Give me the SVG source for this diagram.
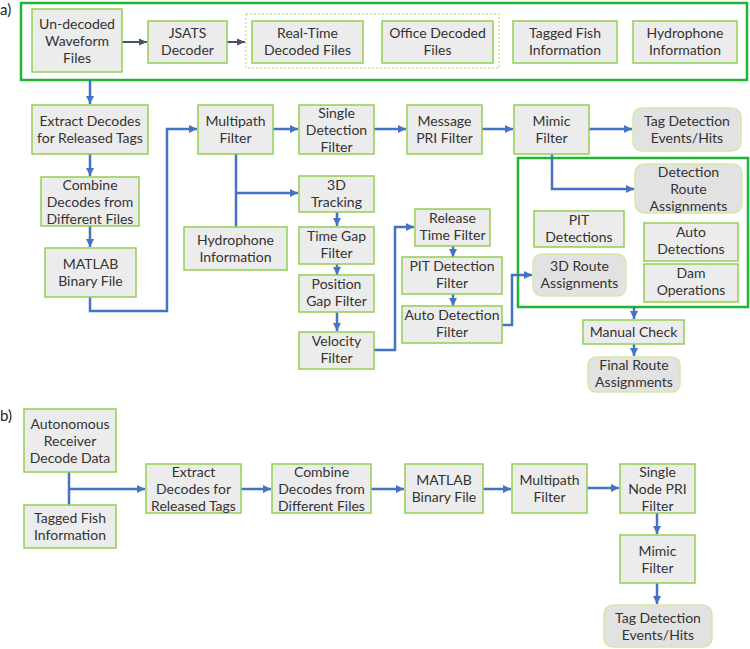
<svg xmlns="http://www.w3.org/2000/svg" width="750" height="649" viewBox="0 0 750 649">
<style>
.b{fill:#ececec;stroke:#92d050;stroke-width:1.5}
.r{fill:#e2e2e2;stroke:#d6e9a6;stroke-width:1.5}
.g{fill:none;stroke:#1db532;stroke-width:2.5}
.d{fill:none;stroke:#a9d46f;stroke-width:1;stroke-dasharray:2 2}
text{font-family:Lato,"Open Sans",sans-serif;font-size:14px;fill:#333;text-anchor:middle}
.lbl{text-anchor:start;font-size:15px;fill:#222}
.c{fill:none;stroke:#4472c4;stroke-width:2.5}
.k{fill:none;stroke:#44546a;stroke-width:2}
</style>
<defs>
<marker id="ah" markerUnits="userSpaceOnUse" markerWidth="10" markerHeight="10" refX="8" refY="4" orient="auto"><path d="M0,0 L8,4 L0,8 Z" fill="#4472c4"/></marker>
<marker id="ak" markerUnits="userSpaceOnUse" markerWidth="10" markerHeight="10" refX="8" refY="4" orient="auto"><path d="M0,0.5 L8,4 L0,7.5 Z" fill="#44546a"/></marker>
</defs>
<text class="lbl" x="0" y="15">a)</text>
<text class="lbl" x="0" y="421">b)</text>
<rect class="g" x="21" y="3" width="726" height="77"/>
<rect class="d" x="246" y="14" width="253" height="54"/>
<rect class="g" x="518" y="158" width="230" height="149"/>
<g id="connectors">
<path class="k" d="M122,42 H147" marker-end="url(#ak)"/>
<path class="k" d="M227,42 H245" marker-end="url(#ak)"/>
<path class="c" d="M90,80 V104" marker-end="url(#ah)"/>
<path class="c" d="M90,154 V176" marker-end="url(#ah)"/>
<path class="c" d="M90,226 V247" marker-end="url(#ah)"/>
<path class="c" d="M90,297 V311 H167 V129 H197" marker-end="url(#ah)"/>
<path class="c" d="M273,129 H298" marker-end="url(#ah)"/>
<path class="c" d="M236,227 V154"/>
<path class="c" d="M236,193 H298" marker-end="url(#ah)"/>
<path class="c" d="M337,212 V226" marker-end="url(#ah)"/>
<path class="c" d="M337,264 V275" marker-end="url(#ah)"/>
<path class="c" d="M337,312 V331" marker-end="url(#ah)"/>
<path class="c" d="M374,350 H395 V227 H414" marker-end="url(#ah)"/>
<path class="c" d="M453,246 V257" marker-end="url(#ah)"/>
<path class="c" d="M453,294 V306" marker-end="url(#ah)"/>
<path class="c" d="M502,325 H512 V275 H532" marker-end="url(#ah)"/>
<path class="c" d="M374,129 H406" marker-end="url(#ah)"/>
<path class="c" d="M482,129 H513" marker-end="url(#ah)"/>
<path class="c" d="M589,129 H632" marker-end="url(#ah)"/>
<path class="c" d="M552,154 V189 H634" marker-end="url(#ah)"/>
<path class="c" d="M634,307 V319" marker-end="url(#ah)"/>
<path class="c" d="M634,344 V356" marker-end="url(#ah)"/>
<path class="c" d="M69,472 V505"/>
<path class="c" d="M69,489 H145" marker-end="url(#ah)"/>
<path class="c" d="M241,489 H271" marker-end="url(#ah)"/>
<path class="c" d="M371,489 H404" marker-end="url(#ah)"/>
<path class="c" d="M483,489 H511" marker-end="url(#ah)"/>
<path class="c" d="M587,488 H619" marker-end="url(#ah)"/>
<path class="c" d="M657,513 V534" marker-end="url(#ah)"/>
<path class="c" d="M657,583 V604" marker-end="url(#ah)"/>
</g>
<g id="undecoded"><rect class="b" x="32" y="9" width="90" height="63"/><text x="77" y="29">Un-decoded</text><text x="77" y="46">Waveform</text><text x="77" y="63">Files</text></g>
<g id="jsats"><rect class="b" x="148" y="21" width="79" height="42"/><text x="187.5" y="38">JSATS</text><text x="187.5" y="55">Decoder</text></g>
<g id="realtime"><rect class="b" x="252" y="21" width="111" height="42"/><text x="307.5" y="38">Real-Time</text><text x="307.5" y="55">Decoded Files</text></g>
<g id="office"><rect class="b" x="382" y="21" width="111" height="42"/><text x="437.5" y="38">Office Decoded</text><text x="437.5" y="55">Files</text></g>
<g id="taggedfish"><rect class="b" x="513" y="21" width="104" height="42"/><text x="565" y="38">Tagged Fish</text><text x="565" y="55">Information</text></g>
<g id="hydrophone"><rect class="b" x="633" y="21" width="104" height="42"/><text x="685" y="38">Hydrophone</text><text x="685" y="55">Information</text></g>
<g id="extract"><rect class="b" x="32" y="105" width="116" height="49"/><text x="90" y="126">Extract Decodes</text><text x="90" y="143">for Released Tags</text></g>
<g id="combine"><rect class="b" x="41" y="177" width="98" height="49"/><text x="90" y="190">Combine</text><text x="90" y="207">Decodes from</text><text x="90" y="224">Different Files</text></g>
<g id="matlab"><rect class="b" x="45" y="248" width="91" height="49"/><text x="90.5" y="269">MATLAB</text><text x="90.5" y="286">Binary File</text></g>
<g id="multipath"><rect class="b" x="198" y="105" width="75" height="49"/><text x="235.5" y="126">Multipath</text><text x="235.5" y="143">Filter</text></g>
<g id="hydro2"><rect class="b" x="184" y="227" width="103" height="43"/><text x="235.5" y="245">Hydrophone</text><text x="235.5" y="262">Information</text></g>
<g id="single"><rect class="b" x="299" y="105" width="75" height="49"/><text x="336.5" y="118">Single</text><text x="336.5" y="135">Detection</text><text x="336.5" y="152">Filter</text></g>
<g id="tracking"><rect class="b" x="299" y="176" width="75" height="36"/><text x="336.5" y="190">3D</text><text x="336.5" y="207">Tracking</text></g>
<g id="timegap"><rect class="b" x="299" y="227" width="75" height="37"/><text x="336.5" y="241">Time Gap</text><text x="336.5" y="258">Filter</text></g>
<g id="posgap"><rect class="b" x="299" y="275" width="75" height="37"/><text x="336.5" y="289">Position</text><text x="336.5" y="306">Gap Filter</text></g>
<g id="velocity"><rect class="b" x="299" y="332" width="75" height="37"/><text x="336.5" y="346">Velocity</text><text x="336.5" y="363">Filter</text></g>
<g id="release"><rect class="b" x="415" y="209" width="75" height="37"/><text x="452.5" y="223">Release</text><text x="452.5" y="240">Time Filter</text></g>
<g id="pitfilter"><rect class="b" x="402" y="257" width="100" height="37"/><text x="452" y="271">PIT Detection</text><text x="452" y="288">Filter</text></g>
<g id="autofilter"><rect class="b" x="402" y="306" width="100" height="37"/><text x="452" y="320">Auto Detection</text><text x="452" y="337">Filter</text></g>
<g id="message"><rect class="b" x="407" y="105" width="75" height="49"/><text x="444.5" y="126">Message</text><text x="444.5" y="143">PRI Filter</text></g>
<g id="mimic"><rect class="b" x="514" y="105" width="75" height="49"/><text x="551.5" y="126">Mimic</text><text x="551.5" y="143">Filter</text></g>
<g id="tagdet"><rect class="r" x="633" y="108" width="108" height="43" rx="9"/><text x="687" y="126">Tag Detection</text><text x="687" y="143">Events/Hits</text></g>
<g id="detroute"><rect class="r" x="635" y="164" width="107" height="49" rx="9"/><text x="688.5" y="177">Detection</text><text x="688.5" y="194">Route</text><text x="688.5" y="211">Assignments</text></g>
<g id="pitdet"><rect class="b" x="534" y="211" width="90" height="36"/><text x="579" y="225">PIT</text><text x="579" y="242">Detections</text></g>
<g id="autodet"><rect class="b" x="644" y="223" width="94" height="38"/><text x="691" y="237">Auto</text><text x="691" y="254">Detections</text></g>
<g id="dam"><rect class="b" x="644" y="264" width="94" height="38"/><text x="691" y="278">Dam</text><text x="691" y="295">Operations</text></g>
<g id="route3d"><rect class="r" x="533" y="254" width="93" height="42" rx="9"/><text x="579.5" y="271">3D Route</text><text x="579.5" y="288">Assignments</text></g>
<g id="manual"><rect class="b" x="583" y="320" width="101" height="24"/><text x="633.5" y="337">Manual Check</text></g>
<g id="final"><rect class="r" x="588" y="357" width="92" height="35" rx="8"/><text x="634" y="370">Final Route</text><text x="634" y="387">Assignments</text></g>
<g id="b_auto"><rect class="b" x="24" y="409" width="92" height="63"/><text x="70" y="429">Autonomous</text><text x="70" y="446">Receiver</text><text x="70" y="463">Decode Data</text></g>
<g id="b_tagged"><rect class="b" x="24" y="505" width="92" height="43"/><text x="70" y="523">Tagged Fish</text><text x="70" y="540">Information</text></g>
<g id="b_extract"><rect class="b" x="146" y="464" width="95" height="49"/><text x="193.5" y="477">Extract</text><text x="193.5" y="494">Decodes for</text><text x="193.5" y="511">Released Tags</text></g>
<g id="b_combine"><rect class="b" x="272" y="464" width="99" height="49"/><text x="321.5" y="477">Combine</text><text x="321.5" y="494">Decodes from</text><text x="321.5" y="511">Different Files</text></g>
<g id="b_matlab"><rect class="b" x="405" y="464" width="78" height="49"/><text x="444" y="485">MATLAB</text><text x="444" y="502">Binary File</text></g>
<g id="b_multipath"><rect class="b" x="512" y="464" width="75" height="49"/><text x="549.5" y="485">Multipath</text><text x="549.5" y="502">Filter</text></g>
<g id="b_single"><rect class="b" x="620" y="464" width="75" height="49"/><text x="657.5" y="477">Single</text><text x="657.5" y="494">Node PRI</text><text x="657.5" y="511">Filter</text></g>
<g id="b_mimic"><rect class="b" x="620" y="535" width="75" height="48"/><text x="657.5" y="556">Mimic</text><text x="657.5" y="573">Filter</text></g>
<g id="b_tagdet"><rect class="r" x="604" y="605" width="108" height="42" rx="9"/><text x="658" y="623">Tag Detection</text><text x="658" y="640">Events/Hits</text></g>
</svg>
